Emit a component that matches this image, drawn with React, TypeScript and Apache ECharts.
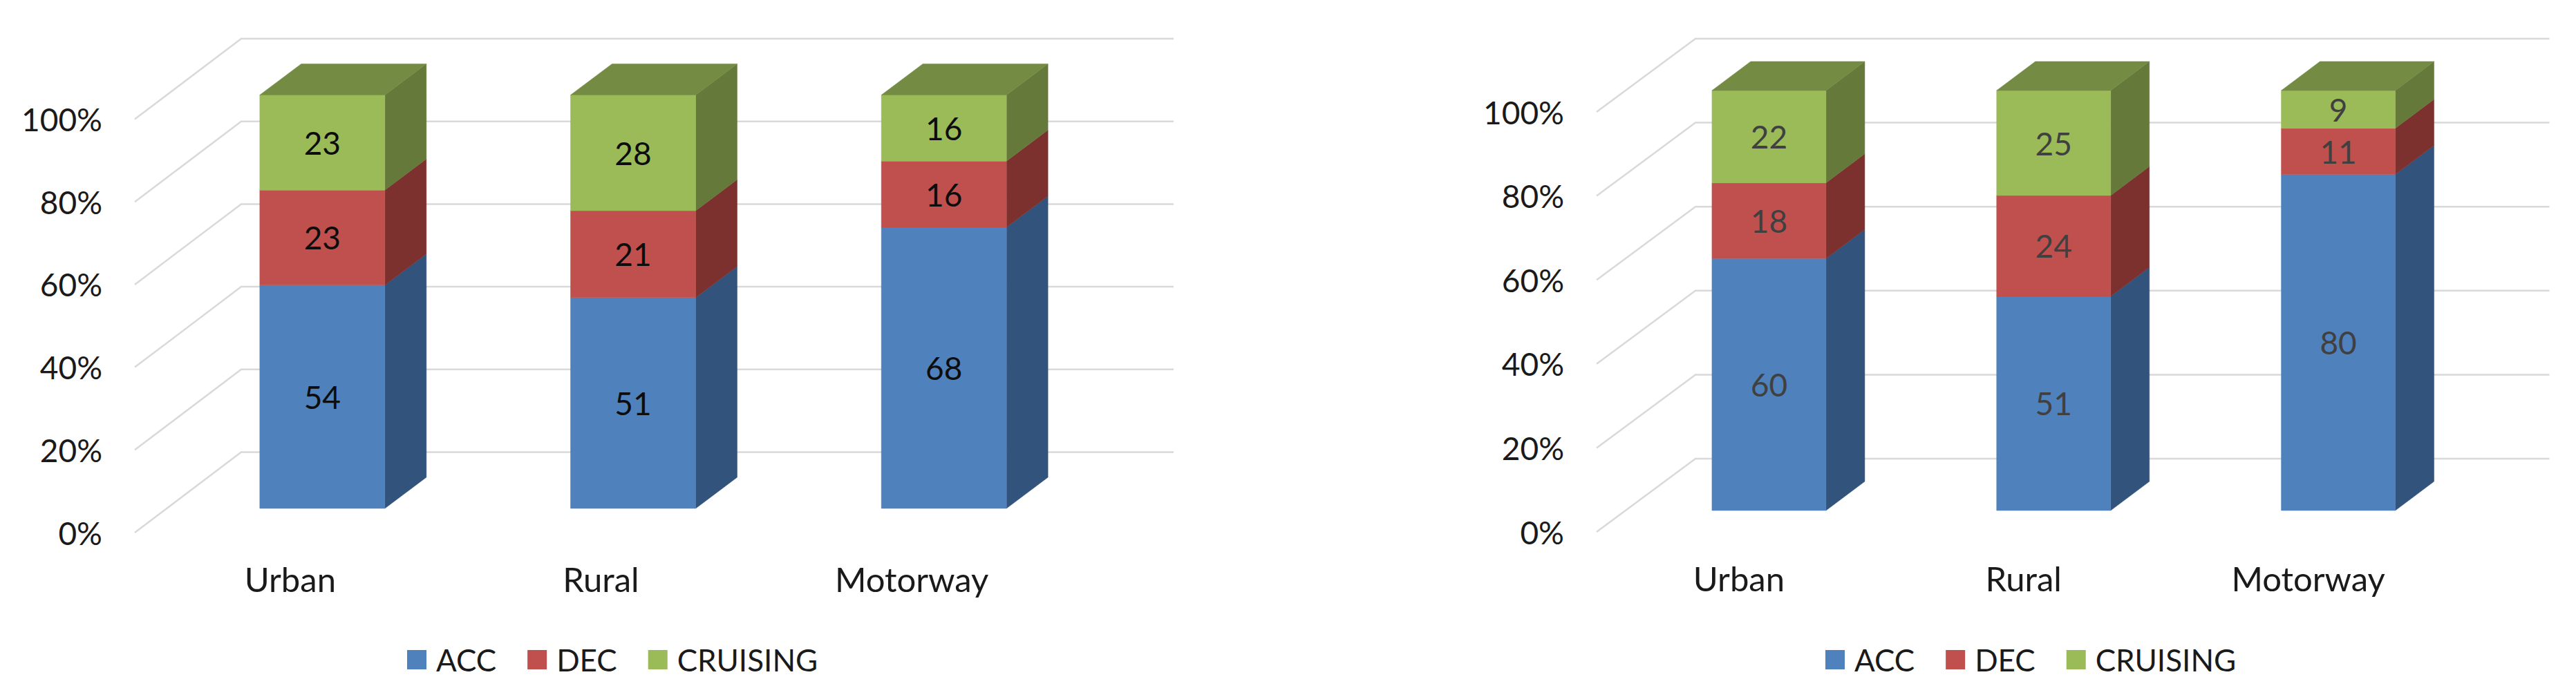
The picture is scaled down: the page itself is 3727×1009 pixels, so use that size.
import React, { useEffect, useRef } from "react";
import * as echarts from "echarts";

const categories = ["Urban", "Rural", "Motorway"];
const gridTicks = [0, 20, 40, 60, 80, 100];
const seriesNames = ["ACC", "DEC", "CRUISING"];

const leftAcc = [54, 51, 68];
const leftDec = [23, 21, 16];
const leftCruising = [23, 28, 16];

const rightAcc = [60, 51, 80];
const rightDec = [18, 24, 11];
const rightCruising = [22, 25, 9];

const frontColors = ["#4F81BD", "#C0504D", "#9BBB59"];
const sideColors = ["#32537C", "#7C312F", "#65793A"];
const topColor = "#748B44";
const FONT = "Lato";

const charts = [
  {
    values: [leftAcc, leftDec, leftCruising],
    labelColor: "#0d0d0d",
    grid: { left: 195, top: 172.5, width: 1349, height: 598.5 },
    wall: { dx: 154, dy: 116.5 },
    bar: { offsetX: 46.5, offsetY: -35, width: 181, dx: 60, dy: 45 },
    legendLeft: 584,
  },
  {
    values: [rightAcc, rightDec, rightCruising],
    labelColor: "#404040",
    grid: { left: 2310, top: 162, width: 1235.5, height: 608 },
    wall: { dx: 143, dy: 106 },
    bar: { offsetX: 43.5, offsetY: -31, width: 165, dx: 56, dy: 42 },
    legendLeft: 2636,
  },
];

function buildOption() {
  const grid: any[] = [];
  const xAxis: any[] = [];
  const yAxis: any[] = [];
  const series: any[] = [];
  const legend: any[] = [];

  charts.forEach((c, gi) => {
    grid.push({ ...c.grid, containLabel: false });
    xAxis.push({
      type: "category",
      gridIndex: gi,
      data: categories,
      axisLine: { show: false },
      axisTick: { show: false },
      axisLabel: { fontFamily: FONT, fontSize: 49, color: "#1a1a1a", margin: 42 },
    });
    yAxis.push({
      type: "value",
      gridIndex: gi,
      min: 0,
      max: 100,
      interval: 20,
      axisLine: { show: false },
      axisTick: { show: false },
      splitLine: { show: false },
      axisLabel: {
        fontFamily: FONT,
        fontSize: 46,
        color: "#1a1a1a",
        margin: 47,
        formatter: "{value}%",
      },
    });
    legend.push({
      left: c.legendLeft,
      top: 928,
      icon: "rect",
      itemWidth: 28,
      itemHeight: 28,
      itemGap: 45,
      data: seriesNames,
      selectedMode: false,
      textStyle: { fontFamily: FONT, fontSize: 44, color: "#1a1a1a", padding: [0, 0, 0, 9] },
    });

    series.push({
      type: "custom",
      xAxisIndex: gi,
      yAxisIndex: gi,
      z: 1,
      silent: true,
      data: gridTicks.map((v) => [0, v]),
      encode: { x: 0, y: 1 },
      renderItem: (params: any, api: any) => {
        const cs = params.coordSys;
        const y = api.coord([0, api.value(1)])[1];
        return {
          type: "polyline",
          shape: {
            points: [
              [cs.x, y],
              [cs.x + c.wall.dx, y - c.wall.dy],
              [cs.x + cs.width + c.wall.dx, y - c.wall.dy],
            ],
          },
          style: { stroke: "#D9D9D9", lineWidth: 2.5, fill: "none" },
        };
      },
    });

    c.values.forEach((vals, si) => {
      const data = vals.map((v, i) => {
        let base = 0;
        for (let k = 0; k < si; k++) base += c.values[k][i];
        return [i, base, v];
      });
      const isTop = si === c.values.length - 1;
      series.push({
        type: "custom",
        name: seriesNames[si],
        xAxisIndex: gi,
        yAxisIndex: gi,
        z: 2,
        silent: true,
        itemStyle: { color: frontColors[si] },
        data,
        encode: { x: 0, y: [1, 2] },
        renderItem: (_p: any, api: any) => {
          const cat = api.value(0);
          const base = api.value(1);
          const val = api.value(2);
          const b = c.bar;
          const lo = api.coord([cat, base]);
          const hi = api.coord([cat, base + val]);
          const cx = lo[0] + b.offsetX;
          const x0 = cx - b.width / 2;
          const x1 = cx + b.width / 2;
          const y0 = lo[1] + b.offsetY;
          const y1 = hi[1] + b.offsetY;
          const children: any[] = [
            {
              type: "polygon",
              shape: { points: [[x1, y0], [x1 + b.dx, y0 - b.dy], [x1 + b.dx, y1 - b.dy], [x1, y1]] },
              style: { fill: sideColors[si], stroke: sideColors[si], lineWidth: 0.5 },
            },
            {
              type: "rect",
              shape: { x: x0, y: y1, width: b.width, height: y0 - y1 },
              style: { fill: frontColors[si], stroke: frontColors[si], lineWidth: 0.5 },
            },
          ];
          if (isTop) {
            children.push({
              type: "polygon",
              shape: { points: [[x0, y1], [x0 + b.dx, y1 - b.dy], [x1 + b.dx, y1 - b.dy], [x1, y1]] },
              style: { fill: topColor, stroke: topColor, lineWidth: 0.5 },
            });
          }
          children.push({
            type: "text",
            style: {
              text: String(val),
              x: cx,
              y: (y0 + y1) / 2,
              align: "center",
              verticalAlign: "middle",
              fontFamily: FONT,
              fontSize: 46,
              fill: c.labelColor,
            },
          });
          return { type: "group", children };
        },
      });
    });
  });

  return { animation: false, backgroundColor: "#ffffff", grid, xAxis, yAxis, legend, series };
}

export default function App() {
  const ref = useRef<HTMLDivElement>(null);
  useEffect(() => {
    document.body.style.margin = "0";
    const chart = echarts.init(ref.current!, undefined, { renderer: "svg" });
    chart.setOption(buildOption() as any);
    return () => chart.dispose();
  }, []);
  return <div ref={ref} style={{ width: 3727, height: 1009 }} />;
}
